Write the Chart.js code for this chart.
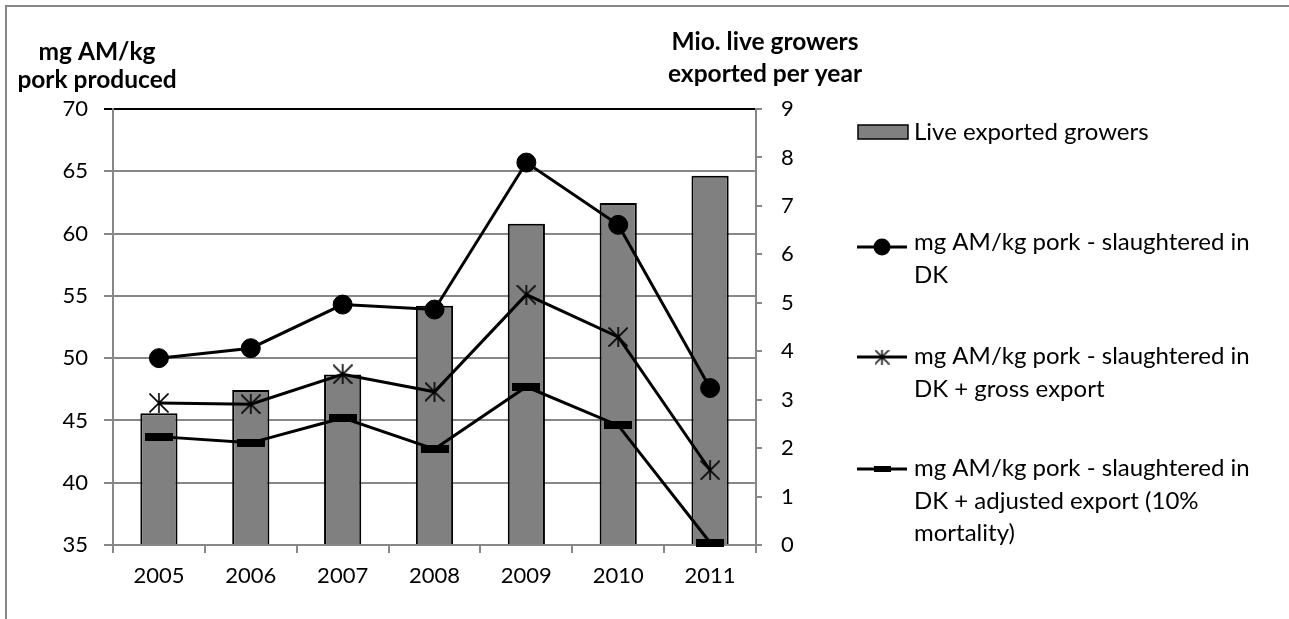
<!DOCTYPE html>
<html>
<head>
<meta charset="utf-8">
<script src="https://cdn.jsdelivr.net/npm/chart.js@4.4.1/dist/chart.umd.min.js"></script>
<style>
  html, body { margin: 0; padding: 0; background: #ffffff; }
  #wrap { position: relative; width: 1289px; height: 619px; }
</style>
</head>
<body>
<div id="wrap"><canvas id="chart" width="1289" height="619"></canvas></div>
<script>
// Years on the category axis
const years = ['2005', '2006', '2007', '2008', '2009', '2010', '2011'];

// Million live growers exported per year (right axis)
const exportedGrowers = [2.72, 3.20, 3.52, 4.94, 6.63, 7.06, 7.62];

// mg antimicrobials per kg pork produced (left axis)
const amSlaughteredDK  = [50.0, 50.8, 54.3, 53.9, 65.7, 60.7, 47.6];
const amGrossExport    = [46.4, 46.3, 48.7, 47.3, 55.1, 51.7, 41.0];
const amAdjustedExport = [43.7, 43.2, 45.2, 42.7, 47.7, 44.6, 35.2];

// Axis ranges
const leftTicks  = [35, 40, 45, 50, 55, 60, 65, 70];
const rightTicks = [0, 1, 2, 3, 4, 5, 6, 7, 8, 9];

// Texts
const leftTitle  = ['mg AM/kg', 'pork produced'];
const rightTitle = ['Mio. live growers', 'exported per year'];
const seriesNames = [
  ['Live exported growers'],
  ['mg AM/kg pork - slaughtered in', 'DK'],
  ['mg AM/kg pork - slaughtered in', 'DK + gross export'],
  ['mg AM/kg pork - slaughtered in', 'DK + adjusted export (10%', 'mortality)']
];

const FONT = 'Lato, "Open Sans", sans-serif';
const GRID = '#878787';

// Marker images
function starMarker(size, lw) {
  const c = document.createElement('canvas');
  c.width = size; c.height = size;
  const g = c.getContext('2d');
  g.strokeStyle = '#000'; g.lineWidth = lw; g.lineCap = 'butt';
  const m = size / 2, r = size / 2 - 0.5;
  g.beginPath();
  g.moveTo(m, 0); g.lineTo(m, size);
  g.moveTo(m - r, m - r); g.lineTo(m + r, m + r);
  g.moveTo(m + r, m - r); g.lineTo(m - r, m + r);
  g.stroke();
  return c;
}
function dashMarker(w, h) {
  const c = document.createElement('canvas');
  c.width = w; c.height = h;
  const g = c.getContext('2d');
  g.fillStyle = '#000'; g.fillRect(0, 0, w, h);
  return c;
}
const starImg = starMarker(20, 1.6);
const dashImg = dashMarker(28, 8);
const starLegendImg = starMarker(15, 1.5);
const dashLegendImg = dashMarker(17, 6);

// Frame, axis titles and legend drawn on the canvas
const decorations = {
  id: 'decorations',
  afterDraw(chart) {
    const ctx = chart.ctx;
    ctx.save();
    // outer frame
    ctx.strokeStyle = GRID; ctx.lineWidth = 2;
    ctx.beginPath();
    ctx.moveTo(6, 619); ctx.lineTo(6, 6); ctx.lineTo(1289, 6);
    ctx.stroke();

    // axis titles
    ctx.fillStyle = '#000';
    ctx.font = 'bold 24.5px ' + FONT;
    ctx.textAlign = 'center'; ctx.textBaseline = 'alphabetic';
    ctx.fillText(leftTitle[0], 97, 60);
    ctx.fillText(leftTitle[1], 97, 88);
    ctx.fillText(rightTitle[0], 765, 50);
    ctx.fillText(rightTitle[1], 765, 82);

    // legend
    ctx.font = '24px ' + FONT;
    ctx.textAlign = 'left'; ctx.textBaseline = 'alphabetic';
    const tx = 914, lh = 32.6;
    // bar entry
    ctx.fillStyle = '#808080';
    ctx.fillRect(858, 125, 50, 14);
    ctx.strokeStyle = '#000'; ctx.lineWidth = 1.5;
    ctx.strokeRect(858, 125, 50, 14);
    ctx.fillStyle = '#000';
    ctx.fillText(seriesNames[0][0], tx, 140);

    const items = [
      { y: 247, base: 250, marker: 'circle' },
      { y: 357, base: 364, marker: 'star' },
      { y: 469, base: 476, marker: 'dash' }
    ];
    items.forEach((it, i) => {
      ctx.strokeStyle = '#000'; ctx.lineWidth = 3;
      ctx.beginPath(); ctx.moveTo(857, it.y); ctx.lineTo(907, it.y); ctx.stroke();
      if (it.marker === 'circle') {
        ctx.fillStyle = '#000';
        ctx.beginPath(); ctx.arc(882, it.y, 8.5, 0, Math.PI * 2); ctx.fill();
      } else if (it.marker === 'star') {
        ctx.drawImage(starLegendImg, 882 - 7.5, it.y - 7.5);
      } else {
        ctx.drawImage(dashLegendImg, 882 - 8.5, it.y - 3);
      }
      ctx.fillStyle = '#000';
      seriesNames[i + 1].forEach((t, k) => ctx.fillText(t, tx, it.base + k * lh));
    });
    ctx.restore();
  }
};

Chart.defaults.font.family = FONT;
Chart.defaults.color = '#000';

new Chart(document.getElementById('chart'), {
  data: {
    labels: years,
    datasets: [
      {
        type: 'line', label: seriesNames[1].join(' '), data: amSlaughteredDK, yAxisID: 'yLeft',
        borderColor: '#000', borderWidth: 3, pointStyle: 'circle', pointRadius: 9.5,
        pointBackgroundColor: '#000', pointBorderColor: '#000', pointBorderWidth: 1,
        tension: 0, clip: false, order: 1
      },
      {
        type: 'line', label: seriesNames[2].join(' '), data: amGrossExport, yAxisID: 'yLeft',
        borderColor: '#000', borderWidth: 3, pointStyle: starImg, pointRadius: 10,
        tension: 0, clip: false, order: 2
      },
      {
        type: 'line', label: seriesNames[3].join(' '), data: amAdjustedExport, yAxisID: 'yLeft',
        borderColor: '#000', borderWidth: 3, pointStyle: dashImg, pointRadius: 10,
        tension: 0, clip: false, order: 3
      },
      {
        type: 'bar', label: seriesNames[0][0], data: exportedGrowers, yAxisID: 'yRight',
        backgroundColor: '#808080', borderColor: '#000', borderWidth: 2,
        categoryPercentage: 1, barPercentage: 0.405, order: 10
      }
    ]
  },
  options: {
    responsive: false,
    animation: false,
    devicePixelRatio: 1,
    layout: { padding: { top: 109, left: 0, right: 0, bottom: 0 } },
    plugins: { legend: { display: false }, tooltip: { enabled: false } },
    scales: {
      x: {
        offset: true,
        afterFit(s) { s.height = 74; },
        grid: { offset: true, drawOnChartArea: false, drawTicks: true, tickLength: 8, color: GRID, lineWidth: 2 },
        border: { display: true, color: GRID, width: 2 },
        ticks: { font: { size: 22 }, padding: 10, maxRotation: 0 }
      },
      yLeft: {
        position: 'left', min: 35, max: 70,
        afterFit(s) { s.width = 113; },
        afterBuildTicks(s) { s.ticks = leftTicks.map(v => ({ value: v })); },
        grid: {
          color: c => (c.tick && c.tick.value === 70 ? '#000' : GRID),
          lineWidth: 2, drawTicks: true, tickLength: 9
        },
        border: { display: true, color: GRID, width: 2 },
        ticks: { font: { size: 22 }, padding: 16 }
      },
      yRight: {
        position: 'right', min: 0, max: 9,
        afterFit(s) { s.width = 1289 - 756; },
        afterBuildTicks(s) { s.ticks = rightTicks.map(v => ({ value: v })); },
        grid: { drawOnChartArea: false, drawTicks: true, tickLength: 6, color: GRID, lineWidth: 2 },
        border: { display: true, color: GRID, width: 2 },
        ticks: { font: { size: 22 }, padding: 19 }
      }
    }
  },
  plugins: [decorations]
});
</script>
</body>
</html>
